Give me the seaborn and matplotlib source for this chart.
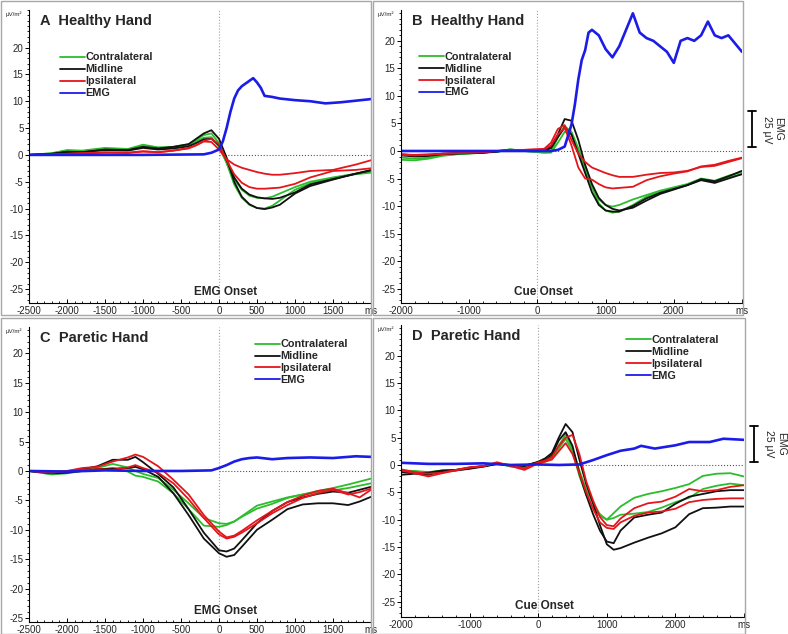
import pandas as pd
import seaborn as sns
import matplotlib.pyplot as plt
from matplotlib.lines import Line2D
from matplotlib.patches import Rectangle
from matplotlib.ticker import MultipleLocator

# ---- panel A: healthy hand, EMG onset ----
A_t = [-2500, -2200, -2000, -1800, -1500, -1200, -1000, -800, -600, -400, -300, -200, -100,
       0, 100, 200, 300, 400, 500, 600, 700, 800, 1000, 1200, 1500, 1800, 2000]
A_contra_1 = [0, 0.3, 0.8, 0.7, 1.1, 1.0, 1.7, 1.3, 1.4, 1.8, 2.5, 3.2, 3.3, 1.5, -1.5, -4.5,
              -6.5, -7.6, -8.0, -8.1, -7.8, -7.2, -6.0, -5.0, -4.2, -3.5, -3.2]
A_contra_2 = [0, 0.3, 0.9, 0.8, 1.3, 1.1, 1.9, 1.4, 1.5, 2.0, 2.8, 3.7, 4.0, 2.2, -1.5, -5.5,
              -8.0, -9.3, -9.9, -10.0, -9.5, -8.5, -6.5, -5.3, -4.3, -3.6, -3.3]
A_mid_1 = [0, 0.2, 0.6, 0.5, 1.0, 0.9, 1.5, 1.2, 1.5, 2.0, 3.0, 4.0, 4.6, 3.0, -0.5, -5.0,
           -7.8, -9.2, -9.9, -10.1, -9.8, -9.3, -7.2, -5.8, -4.6, -3.5, -2.8]
A_mid_2 = [0, 0.2, 0.5, 0.5, 0.9, 0.8, 1.3, 1.0, 1.2, 1.6, 2.2, 2.9, 3.0, 1.8, -1.0, -4.2,
           -6.3, -7.4, -7.9, -8.1, -8.2, -8.0, -7.0, -5.5, -4.5, -3.5, -2.9]
A_ipsi_1 = [0, 0.0, 0.2, 0.3, 0.5, 0.4, 0.7, 0.5, 0.8, 1.3, 1.8, 2.5, 2.4, 1.0, -0.8, -1.8,
            -2.4, -2.8, -3.2, -3.5, -3.7, -3.7, -3.4, -3.0, -2.8, -1.8, -1.0]
A_ipsi_2 = [0, 0.1, 0.2, 0.3, 0.4, 0.4, 0.6, 0.5, 0.8, 1.2, 1.8, 2.6, 3.0, 2.0, -1.0, -3.6,
            -5.2, -6.0, -6.3, -6.3, -6.2, -6.1, -5.4, -4.2, -3.0, -2.8, -2.5]
A_emg_t = [-2500, -1000, -200, -100, 0, 50, 100, 150, 200, 250, 300, 400, 450, 500, 550, 600,
           700, 800, 1000, 1200, 1400, 1600, 1800, 2000]
A_emg = [0, 0, 0.1, 0.4, 1.0, 2.5, 5.0, 8.0, 10.5, 12.0, 12.8, 13.8, 14.3, 13.5, 12.5, 11.0,
         10.8, 10.5, 10.2, 10.0, 9.6, 9.8, 10.1, 10.4]

# ---- panel B: healthy hand, cue onset ----
B_t = [-2000, -1800, -1600, -1400, -1200, -1000, -800, -600, -400, -200, 0, 100, 200, 300, 400,
       500, 600, 700, 800, 900, 1000, 1100, 1200, 1400, 1600, 1800, 2000, 2200, 2400, 2600,
       2800, 3000]
B_contra_1 = [-1.2, -1.4, -1.2, -0.8, -0.6, -0.4, -0.3, -0.2, 0.3, 0.0, -0.2, -0.3, -0.3, 1.5,
              3.5, 3.0, 0.0, -3.5, -6.5, -8.8, -9.8, -10.1, -9.8, -8.8, -8.0, -7.2, -6.6, -6.0,
              -5.0, -5.4, -4.5, -3.8]
B_contra_2 = [-1.6, -1.7, -1.4, -0.9, -0.6, -0.5, -0.3, -0.1, 0.3, 0.0, -0.2, -0.3, -0.2, 2.5,
              4.5, 3.5, 0.5, -3.0, -6.5, -9.5, -10.8, -11.2, -11.0, -9.8, -8.3, -7.4, -6.8,
              -6.1, -5.2, -5.6, -4.8, -4.2]
B_mid_1 = [-0.8, -1.0, -0.9, -0.6, -0.5, -0.4, -0.3, -0.1, 0.2, 0.0, 0.0, 0.2, 0.8, 3.0, 5.8,
           5.5, 2.0, -2.5, -6.0, -8.5, -9.8, -10.5, -10.8, -10.3, -9.0, -7.8, -7.0, -6.2, -5.3,
           -5.8, -5.0, -4.2]
B_mid_2 = [-0.6, -0.8, -0.8, -0.5, -0.4, -0.3, -0.3, -0.1, 0.2, 0.1, 0.0, 0.1, 0.5, 2.5, 4.3,
           3.0, -0.5, -4.0, -7.5, -9.8, -10.8, -11.0, -11.0, -10.0, -8.6, -7.6, -6.9, -6.2,
           -5.1, -5.5, -4.6, -3.6]
B_ipsi_1 = [-0.6, -0.7, -0.6, -0.5, -0.4, -0.3, -0.2, 0.0, 0.2, 0.2, 0.3, 0.4, 1.5, 4.0, 4.7,
            2.0, -0.5, -2.0, -3.0, -3.5, -4.0, -4.4, -4.7, -4.7, -4.3, -4.0, -3.9, -3.6, -2.9,
            -2.7, -2.0, -1.3]
B_ipsi_2 = [-0.7, -0.8, -0.7, -0.5, -0.4, -0.3, -0.2, 0.0, 0.2, 0.2, 0.3, 0.3, 1.0, 3.0, 4.2,
            1.0, -3.0, -5.0, -5.2, -6.0, -6.6, -6.8, -6.7, -6.5, -5.3, -4.6, -4.1, -3.7, -2.8,
            -2.5, -1.8, -1.2]
B_emg_t = [-2000, -1000, 0, 200, 300, 400, 500, 550, 600, 650, 700, 750, 800, 850, 900, 1000,
           1100, 1200, 1300, 1400, 1500, 1600, 1700, 1800, 1900, 2000, 2100, 2200, 2300, 2400,
           2500, 2600, 2700, 2800, 2900, 3000]
B_emg = [0, 0, 0, 0, 0.2, 0.8, 4.8, 8.5, 13.0, 16.5, 18.3, 21.5, 22.0, 21.5, 21.0, 18.5, 17.0,
         19.0, 22.0, 25.0, 21.5, 20.5, 20.0, 19.0, 18.0, 16.0, 20.0, 20.5, 20.0, 21.0, 23.5,
         21.0, 20.5, 21.0, 19.5, 18.0]

# ---- panel C: paretic hand, EMG onset ----
C_t = [-2500, -2200, -2000, -1800, -1600, -1400, -1200, -1100, -1000, -800, -600, -400, -200,
       0, 100, 200, 300, 500, 700, 900, 1100, 1300, 1500, 1700, 1850, 2000]
C_contra_1 = [0, -0.5, -0.3, 0.2, 0.5, 1.2, 0.6, 0.0, -0.5, -1.2, -3.2, -5.5, -8.0, -8.9, -9.0,
              -8.6, -7.8, -6.4, -5.6, -4.6, -4.0, -3.4, -2.9, -2.3, -1.8, -1.3]
C_contra_2 = [0, -0.6, -0.4, 0.0, 0.2, 0.5, -0.1, -0.8, -1.0, -1.8, -3.8, -6.5, -9.3, -9.5,
              -9.2, -8.6, -7.7, -5.9, -5.2, -4.5, -4.0, -3.6, -3.3, -2.9, -2.5, -2.1]
C_mid_1 = [0, -0.3, -0.2, 0.3, 0.8, 1.9, 1.9, 2.4, 1.5, -0.5, -2.8, -6.5, -10.5, -13.5, -13.7,
           -13.2, -11.8, -8.9, -6.8, -5.3, -4.5, -3.9, -3.5, -3.7, -3.2, -2.7]
C_mid_2 = [0, -0.4, -0.3, 0.0, 0.3, 0.4, 0.5, 0.7, 0.3, -1.0, -3.8, -7.5, -11.5, -14.0, -14.6,
           -14.3, -12.9, -10.0, -8.3, -6.5, -5.7, -5.5, -5.5, -5.8, -5.2, -4.4]
C_ipsi_1 = [0, -0.3, 0.0, 0.5, 0.7, 1.6, 2.3, 2.8, 2.4, 0.8, -1.5, -4.0, -7.5, -10.3, -11.3,
            -11.0, -10.2, -8.4, -6.8, -5.3, -4.2, -3.4, -3.0, -3.8, -4.5, -3.2]
C_ipsi_2 = [0, -0.2, 0.0, 0.2, 0.3, 0.2, 0.6, 1.0, 0.5, -0.3, -2.1, -4.8, -8.0, -10.8, -11.5,
            -11.2, -10.5, -8.9, -7.2, -5.8, -4.6, -3.8, -3.2, -4.0, -3.6, -3.0]
C_emg_t = [-2500, -2000, -1500, -1000, -500, -100, 0, 100, 200, 300, 400, 500, 700, 900, 1200,
           1500, 1800, 2000]
C_emg = [0, -0.1, 0.1, 0.0, 0.0, 0.1, 0.5, 1.0, 1.6, 2.0, 2.2, 2.3, 2.0, 2.2, 2.3, 2.2, 2.5, 2.4]

# ---- panel D: paretic hand, cue onset ----
D_t = B_t
D_contra_1 = [-1.0, -1.2, -1.4, -1.2, -1.0, -0.6, -0.2, 0.3, -0.3, -0.4, 0.5, 0.8, 1.5, 3.5,
              5.6, 3.0, -1.0, -4.5, -7.0, -9.0, -10.0, -8.8, -7.6, -6.0, -5.3, -4.8, -4.2,
              -3.5, -2.0, -1.6, -1.5, -2.1]
D_contra_2 = [-1.0, -1.1, -1.3, -1.0, -0.9, -0.5, -0.3, 0.2, -0.2, -0.4, 0.3, 0.6, 1.2, 3.0,
              4.8, 2.5, -2.0, -5.5, -7.8, -9.3, -10.0, -9.7, -9.1, -8.9, -8.6, -7.8, -6.8,
              -6.0, -4.4, -3.8, -3.4, -3.7]
D_mid_1 = [-1.8, -1.6, -1.8, -1.2, -1.0, -0.7, -0.3, 0.2, 0.0, -0.2, 0.6, 1.2, 2.2, 5.0, 7.5,
           6.0, 1.0, -3.5, -7.0, -11.0, -14.5, -15.5, -15.2, -14.2, -13.3, -12.5, -11.4, -9.0,
           -7.9, -7.8, -7.6, -7.6]
D_mid_2 = [-1.3, -1.5, -1.4, -1.0, -0.9, -0.5, -0.2, 0.2, -0.1, -0.1, 0.5, 0.9, 1.8, 4.5, 6.0,
           3.5, -1.5, -5.5, -9.0, -12.0, -14.0, -14.3, -12.0, -9.6, -9.1, -8.7, -7.1, -5.8,
           -5.3, -4.8, -4.6, -4.6]
D_ipsi_1 = [-0.8, -1.3, -1.6, -1.4, -0.9, -0.4, -0.2, 0.4, -0.1, -0.6, 0.5, 0.8, 1.5, 3.5, 5.0,
            5.5, 2.0, -3.0, -6.5, -9.5, -11.0, -11.2, -9.8, -7.9, -7.0, -6.7, -5.8, -4.4,
            -4.8, -4.6, -4.0, -3.7]
D_ipsi_2 = [-1.0, -1.5, -2.1, -1.5, -1.0, -0.5, -0.2, 0.5, -0.2, -0.9, 0.3, 0.6, 1.0, 2.5, 4.0,
            2.0, -1.5, -5.0, -8.0, -10.5, -11.5, -11.7, -10.5, -9.3, -8.7, -8.5, -8.0, -6.8,
            -6.4, -6.2, -6.1, -6.1]
D_emg_t = [-2000, -1600, -1200, -800, -400, 0, 300, 600, 800, 1000, 1200, 1400, 1500, 1700,
           2000, 2200, 2500, 2700, 3000]
D_emg = [0.4, 0.2, 0.2, 0.3, 0.0, 0.1, 0.0, 0.1, 0.9, 1.8, 2.6, 3.0, 3.5, 3.0, 3.6, 4.2, 4.2,
         4.8, 4.6]

SITES = ['Contralateral', 'Midline', 'Ipsilateral']
COLORS = {'Contralateral': '#2cbd2c', 'Midline': '#111111', 'Ipsilateral': '#e4161c'}
EMG_COLOR = '#1c1ce8'

sns.set_style('white')
plt.rcParams['font.family'] = ['Liberation Sans', 'DejaVu Sans']
plt.rcParams['axes.unicode_minus'] = False

W, H = 788, 634


def long_df(t, series):
    parts = []
    for site, reps in series.items():
        for i, vals in enumerate(reps):
            parts.append(pd.DataFrame({'t': t, 'v': vals, 'site': site, 'rep': i}))
    return pd.concat(parts, ignore_index=True)


def draw_panel(ax, title, onset, onset_x, t, series, emg_t, emg, xticks, xminor, ylim, leg_xy,
               scale_bar=False):
    df = long_df(t, series)
    xmin, xmax = xticks[0], xticks[-1]
    ax.axvline(0, color='#a0a0a0', ls=':', lw=0.8, zorder=0)
    ax.hlines(0, 0, xmax, color='#555555', linestyles=':', lw=0.8, zorder=0)
    sns.lineplot(data=df, x='t', y='v', hue='site', units='rep', estimator=None,
                 palette=COLORS, lw=1.3, legend=False, sort=False, ax=ax)
    sns.lineplot(x=emg_t, y=emg, color=EMG_COLOR, lw=1.9, ax=ax)
    ax.set_xlim(xmin, xmax)
    ax.set_ylim(*ylim)
    ax.set_xlabel('')
    ax.set_ylabel('')

    ax.set_xticks(xticks)
    ax.set_xticklabels([str(x) for x in xticks[:-1]] + ['ms'])
    ax.set_yticks(list(range(-25, 21, 5)))
    ax.xaxis.set_minor_locator(MultipleLocator(xminor))
    ax.yaxis.set_minor_locator(MultipleLocator(1))
    ax.tick_params(bottom=True, left=True, which='both', color='black')
    ax.tick_params(axis='y', which='major', direction='out', length=3, width=0.7,
                   labelsize=7, pad=1)
    ax.tick_params(axis='y', which='minor', direction='out', length=1.5, width=0.6)
    ax.tick_params(axis='x', which='major', direction='in', length=3, width=0.7,
                   labelsize=7, pad=2)
    ax.tick_params(axis='x', which='minor', direction='in', length=1.5, width=0.6)
    for side in ['top', 'right']:
        ax.spines[side].set_visible(False)
    for side in ['left', 'bottom']:
        ax.spines[side].set_color('black')
        ax.spines[side].set_linewidth(0.8)

    ax.text(0.032, 0.962, title, transform=ax.transAxes, fontsize=10.5, fontweight='bold',
            ha='left', va='center')
    ax.text(onset_x, 0.038, onset, transform=ax.get_xaxis_transform(), fontsize=8.5,
            fontweight='bold', ha='center', va='center')
    ax.text(-0.045, 0.985, 'μV/m²', transform=ax.transAxes, fontsize=4.5,
            ha='center', va='center')

    handles = [Line2D([], [], color=COLORS[s], lw=1.3) for s in SITES]
    handles.append(Line2D([], [], color=EMG_COLOR, lw=1.3))
    ax.legend(handles, SITES + ['EMG'], loc='upper left', bbox_to_anchor=leg_xy,
              frameon=False, prop={'weight': 'bold', 'size': 7.8}, handlelength=2.3,
              handletextpad=0.05, labelspacing=0.18, borderpad=0, borderaxespad=0)

    if scale_bar:
        bx, y0, y1 = 1.03, 0.532, 0.655
        kw = dict(transform=ax.transAxes, clip_on=False, color='black', lw=1.3)
        ax.plot([bx, bx], [y0, y1], **kw)
        ax.plot([bx - 0.012, bx + 0.012], [y0, y0], **kw)
        ax.plot([bx - 0.012, bx + 0.012], [y1, y1], **kw)
        ax.text(1.072, 0.593, '25 μV', transform=ax.transAxes, rotation=-90, fontsize=7.5,
                ha='center', va='center')
        ax.text(1.107, 0.593, 'EMG', transform=ax.transAxes, rotation=-90, fontsize=7.5,
                ha='center', va='center')


def px_axes(left, top, right, bottom):
    return [left / W, 1 - bottom / H, (right - left) / W, (bottom - top) / H]


fig = plt.figure(figsize=(W / 100, H / 100), dpi=100)

# grey panel frames
for x0, y0, x1, y1 in [(0.5, 0.5, 371, 315), (373, 0.5, 743, 315),
                       (0.5, 318, 371, 633.5), (373, 318, 745, 633.5)]:
    fig.add_artist(Rectangle((x0 / W, 1 - y1 / H), (x1 - x0) / W, (y1 - y0) / H,
                             transform=fig.transFigure, fill=False, ec='#a8a8a8', lw=1.0))

ax_a = fig.add_axes(px_axes(29, 10, 371, 303))
ax_b = fig.add_axes(px_axes(401, 10, 742, 303))
ax_c = fig.add_axes(px_axes(29, 327, 371, 622))
ax_d = fig.add_axes(px_axes(401, 325, 744, 617))

ticks_ab = list(range(-2500, 2001, 500))
ticks_bd = list(range(-2000, 3001, 1000))

draw_panel(ax_a, 'A  Healthy Hand', 'EMG Onset', 80, A_t,
           {'Contralateral': (A_contra_1, A_contra_2), 'Midline': (A_mid_1, A_mid_2),
            'Ipsilateral': (A_ipsi_1, A_ipsi_2)},
           A_emg_t, A_emg, ticks_ab, 100, (-27.6, 27.0), (0.09, 0.855))
draw_panel(ax_b, 'B  Healthy Hand', 'Cue Onset', 95, B_t,
           {'Contralateral': (B_contra_1, B_contra_2), 'Midline': (B_mid_1, B_mid_2),
            'Ipsilateral': (B_ipsi_1, B_ipsi_2)},
           B_emg_t, B_emg, ticks_bd, 200, (-27.6, 25.6), (0.053, 0.858), scale_bar=True)
draw_panel(ax_c, 'C  Paretic Hand', 'EMG Onset', 80, C_t,
           {'Contralateral': (C_contra_1, C_contra_2), 'Midline': (C_mid_1, C_mid_2),
            'Ipsilateral': (C_ipsi_1, C_ipsi_2)},
           C_emg_t, C_emg, ticks_ab, 100, (-25.7, 24.5), (0.661, 0.958))
draw_panel(ax_d, 'D  Paretic Hand', 'Cue Onset', 95, D_t,
           {'Contralateral': (D_contra_1, D_contra_2), 'Midline': (D_mid_1, D_mid_2),
            'Ipsilateral': (D_ipsi_1, D_ipsi_2)},
           D_emg_t, D_emg, ticks_bd, 200, (-27.8, 25.6), (0.656, 0.965), scale_bar=True)

fig.savefig('out.png', dpi=100)
